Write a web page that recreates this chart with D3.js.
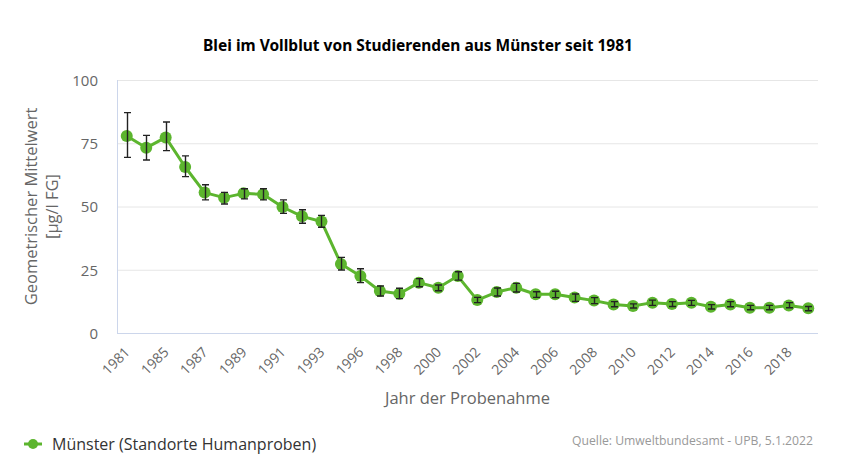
<!DOCTYPE html>
<html>
<head>
<meta charset="utf-8">
<script src="https://cdn.jsdelivr.net/npm/d3@7"></script>
<style>
  html, body { margin: 0; padding: 0; background: #fff; }
  svg { display: block; }
</style>
</head>
<body>
<svg id="chart" width="856" height="474"></svg>
<script>
// ---- Data ----
const years = ["1981","1983","1985","1986","1987","1988","1989","1990","1991","1992","1993","1995",
  "1996","1997","1998","1999","2000","2001","2002","2003","2004","2005","2006","2007","2008","2009",
  "2010","2011","2012","2013","2014","2015","2016","2017","2018","2019"];
const values = [77.9,73.2,77.3,65.6,55.5,53.5,55.2,54.8,49.8,46.1,44.1,27.3,
  22.5,16.6,15.5,19.9,17.9,22.5,13.0,16.2,17.9,15.3,15.3,14.0,12.8,11.3,
  10.7,12.0,11.5,12.0,10.4,11.3,10.0,10.0,10.9,9.8];
const errLow = [69.4,68.4,72.1,61.8,52.6,51.0,53.0,52.6,47.3,43.4,41.8,24.9,
  19.9,14.6,13.6,18.3,16.7,20.9,12.0,14.6,16.2,14.1,14.0,12.5,11.6,10.4,
  9.9,10.9,10.5,10.9,9.5,10.4,9.2,9.2,10.0,8.8];
const errHigh = [87.1,78.1,83.4,70.0,58.6,55.6,57.0,57.0,52.6,48.7,46.5,29.9,
  25.4,18.6,17.7,21.5,19.0,24.2,14.1,17.8,19.6,16.3,16.5,15.4,14.0,12.4,
  11.5,13.0,12.4,12.9,11.2,12.4,10.9,10.9,12.0,10.5];
const yTicks = [0, 25, 50, 75, 100];
const seriesName = "Münster (Standorte Humanproben)";
const titleText = "Blei im Vollblut von Studierenden aus Münster seit 1981";
const yTitle = ["Geometrischer Mittelwert", "[µg/l FG]"];
const xTitle = "Jahr der Probenahme";
const credits = "Quelle: Umweltbundesamt - UPB, 5.1.2022";

// ---- Layout ----
const green = "#5cb52e";
const svg = d3.select("#chart");
const plot = { left: 117, right: 818, top: 80, bottom: 333 };
const font = "'Open Sans', 'DejaVu Sans', sans-serif";

const x = d3.scaleBand().domain(years).range([plot.left, plot.right]).padding(0);
const y = d3.scaleLinear().domain([0, 100]).range([plot.bottom, plot.top]);
const cx = d => x(d) + x.bandwidth() / 2;

// Title
svg.append("text")
  .attr("x", 418).attr("y", 51)
  .attr("text-anchor", "middle")
  .attr("font-family", "'Noto Sans', 'Open Sans', sans-serif")
  .attr("font-weight", "bold")
  .attr("font-size", 15.5)
  .attr("fill", "#000")
  .text(titleText);

// Gridlines
svg.append("g").selectAll("line").data(yTicks.filter(t => t > 0)).join("line")
  .attr("x1", plot.left).attr("x2", plot.right)
  .attr("y1", d => y(d) + 0.5).attr("y2", d => y(d) + 0.5)
  .attr("stroke", "#e6e6e6").attr("stroke-width", 1);

// Y axis
const yAxis = svg.append("g")
  .attr("transform", `translate(${plot.left},0)`)
  .call(d3.axisLeft(y).tickValues(yTicks).tickSize(0).tickPadding(19));
yAxis.select(".domain").attr("stroke", "#ccd6eb").attr("d", `M0.5,${plot.top}V${plot.bottom}`);
yAxis.selectAll("text")
  .attr("font-family", font).attr("font-size", 15).attr("fill", "#666")
  .attr("dy", "0.36em");

// X axis
const xAxis = svg.append("g")
  .attr("transform", `translate(0,${plot.bottom})`)
  .call(d3.axisBottom(x).tickValues(years.filter((d, i) => i % 2 === 0)).tickSize(0).tickPadding(0));
xAxis.select(".domain").attr("stroke", "#ccd6eb").attr("d", `M${plot.left},0.5H${plot.right}`);
xAxis.selectAll("text")
  .attr("font-family", font).attr("font-size", 14).attr("fill", "#666")
  .attr("text-anchor", "end")
  .attr("dy", 0).attr("y", 0)
  .attr("transform", "translate(4,20) rotate(-45)");

// Axis titles
const yt = svg.append("text")
  .attr("transform", `translate(37,${(plot.top + plot.bottom) / 2}) rotate(-90)`)
  .attr("text-anchor", "middle")
  .attr("font-family", font).attr("font-size", 16.5).attr("fill", "#666");
yt.append("tspan").attr("x", 0).attr("dy", 0).text(yTitle[0]);
yt.append("tspan").attr("x", 0).attr("dy", 21).text(yTitle[1]);

svg.append("text")
  .attr("x", (plot.left + plot.right) / 2).attr("y", 404)
  .attr("text-anchor", "middle")
  .attr("font-family", font).attr("font-size", 16.5).attr("fill", "#666")
  .text(xTitle);

// Line
const pts = years.map((d, i) => ({ year: d, v: values[i], lo: errLow[i], hi: errHigh[i] }));
svg.append("path")
  .datum(pts)
  .attr("fill", "none").attr("stroke", green).attr("stroke-width", 3)
  .attr("stroke-linejoin", "round")
  .attr("d", d3.line().x(d => cx(d.year)).y(d => y(d.v)));

// Markers
svg.append("g").selectAll("circle").data(pts).join("circle")
  .attr("cx", d => cx(d.year)).attr("cy", d => y(d.v)).attr("r", 6)
  .attr("fill", green);

// Error bars
const eb = svg.append("g").attr("stroke", "#222").attr("stroke-width", 1.4).attr("fill", "none");
eb.selectAll("path").data(pts).join("path")
  .attr("d", d => {
    const xc = Math.round(cx(d.year)) + 0.5, y1 = y(d.hi), y2 = y(d.lo);
    return `M${xc},${y1}V${y2}M${xc - 3.5},${y1}H${xc + 3.5}M${xc - 3.5},${y2}H${xc + 3.5}`;
  });

// Legend
const lg = svg.append("g");
lg.append("line").attr("x1", 24).attr("x2", 42).attr("y1", 444).attr("y2", 444)
  .attr("stroke", green).attr("stroke-width", 3);
lg.append("circle").attr("cx", 33).attr("cy", 444).attr("r", 5).attr("fill", green);
lg.append("text").attr("x", 52).attr("y", 450)
  .attr("font-family", font).attr("font-size", 16).attr("fill", "#333")
  .text(seriesName);

// Credits
svg.append("text").attr("x", 813).attr("y", 445)
  .attr("text-anchor", "end")
  .attr("font-family", font).attr("font-size", 13).attr("fill", "#999")
  .attr("textLength", 241).attr("lengthAdjust", "spacingAndGlyphs")
  .text(credits);
</script>
</body>
</html>
